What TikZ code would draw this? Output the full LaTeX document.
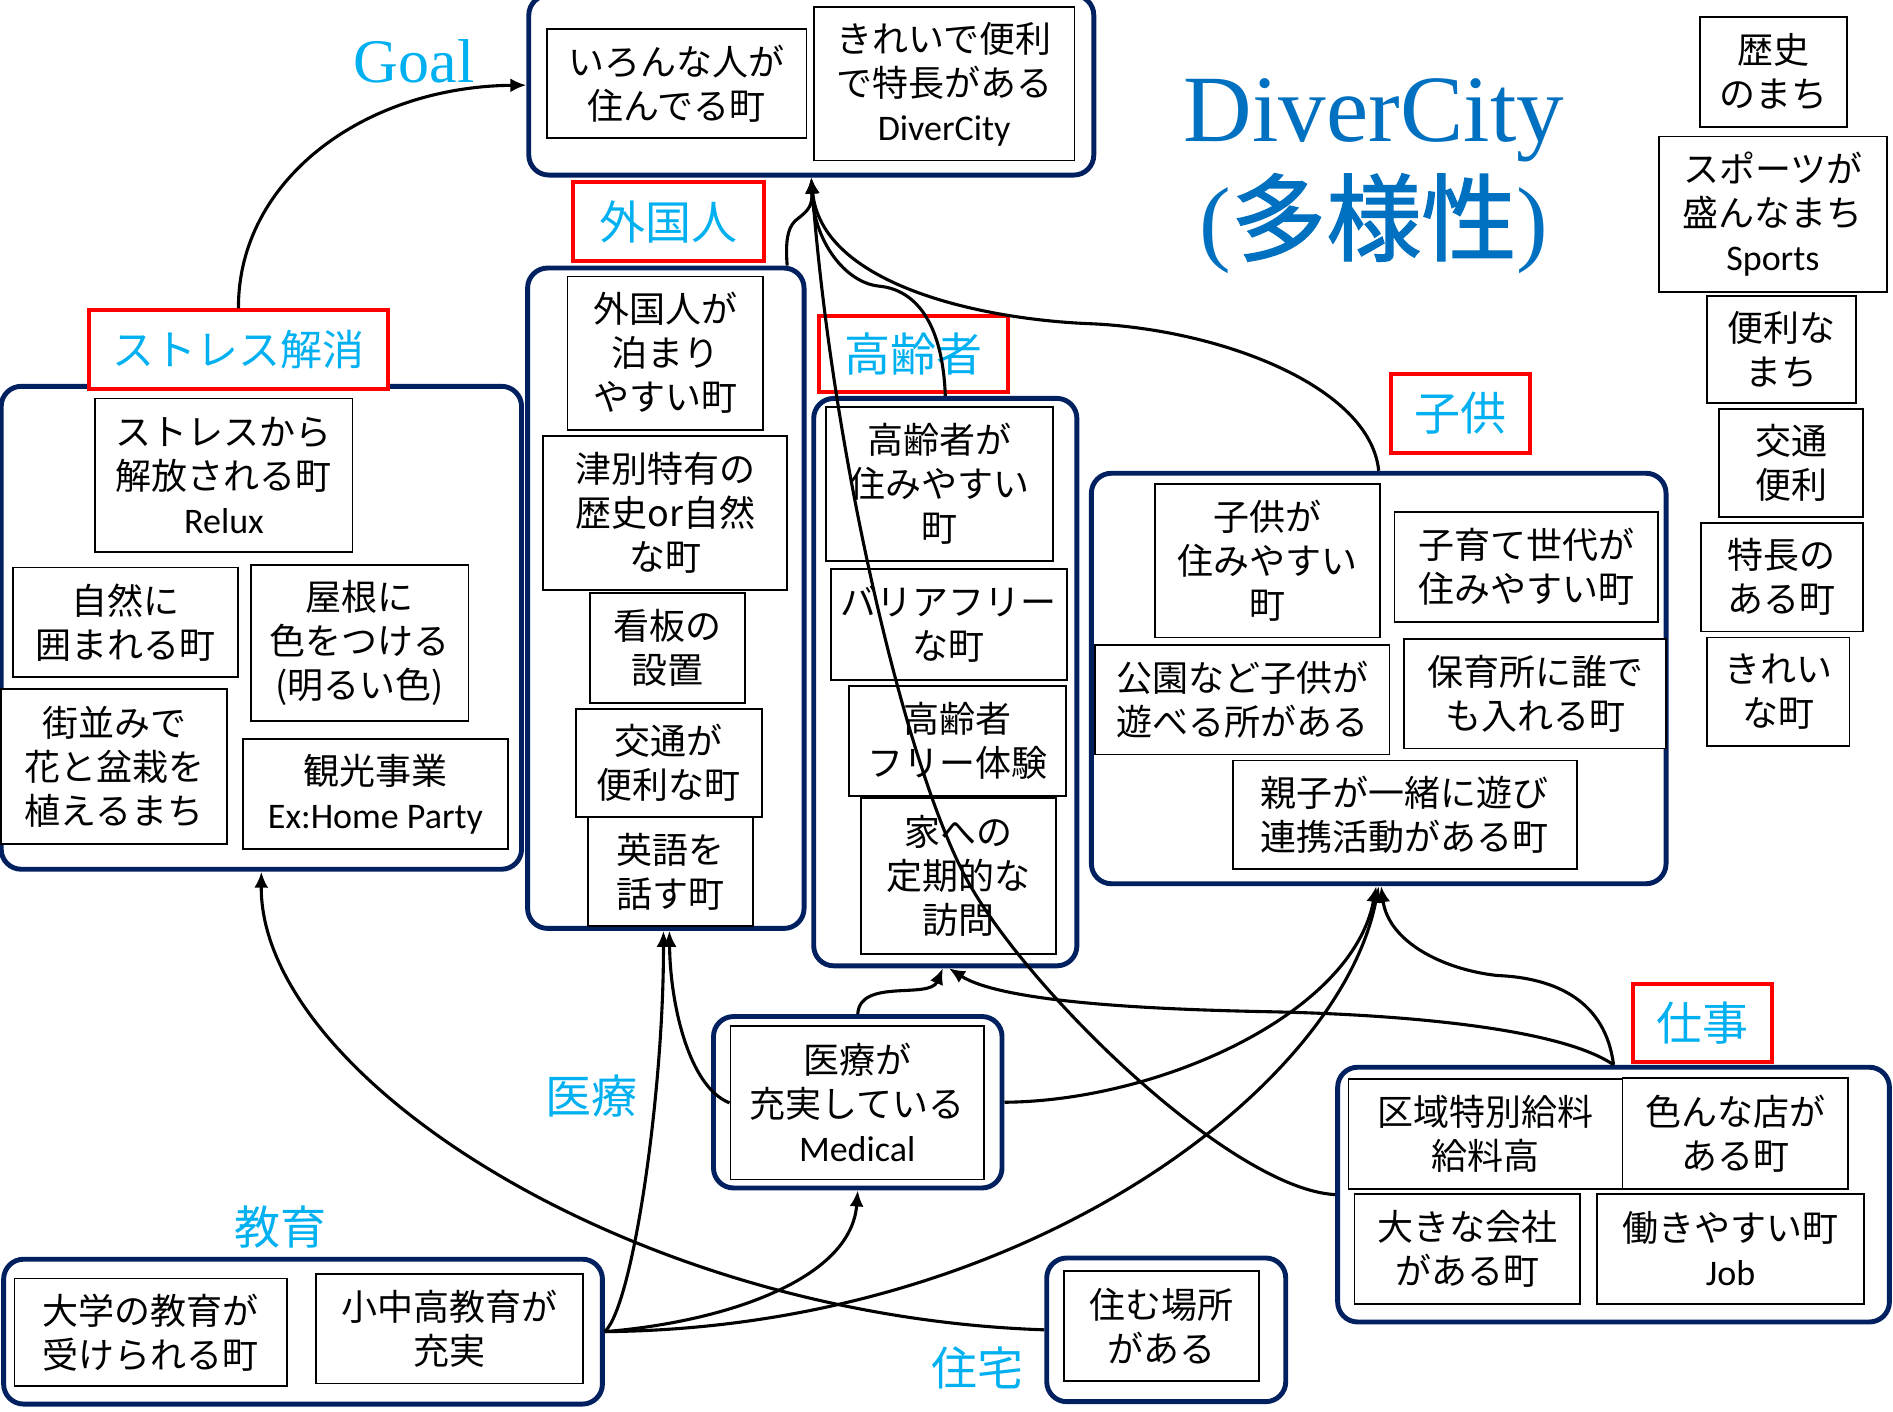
\documentclass[tikz,border=0pt]{standalone}
\usepackage{fontspec}
\setmainfont{Noto Sans CJK JP}
\newfontfamily\latf{Carlito}
\newfontfamily\serf{Liberation Serif}
\newfontfamily\jpbold[FakeBold=1.5]{Noto Sans CJK JP}
\usetikzlibrary{arrows.meta,fit,calc}
\definecolor{navy}{HTML}{002060}
\definecolor{cyanlab}{HTML}{00B0F0}
\definecolor{dcblue}{HTML}{0070C0}
\newcommand\lat[1]{{\latf #1}}
\tikzset{
  panel/.style={draw=navy, line width=4.9pt, rounded corners=20pt, fill=white, inner sep=0pt},
  tb/.style={draw=black, line width=1.8pt, fill=white, inner sep=0pt},
  tx/.style={align=center, font=\fontsize{36}{44}\selectfont, inner sep=0pt},
  redlab/.style={draw=red, line width=4pt, fill=white, inner sep=0pt},
  cy/.style={text=cyanlab, font=\fontsize{46}{50}\selectfont, inner sep=0pt},
  conn/.style={line width=3.1pt, -{Latex[length=16pt,width=14pt]}},
}
\newcommand\pnl[5]{\node[panel, fit={(#2,#3) (#4,#5)}] (#1) {};}
\newcommand\tbx[6]{\node[tb, fit={(#2,#3) (#4,#5)}] (#1) {};
  \node[tx] (#1t) at (#1.center) {#6};}
\newcommand\rlab[6]{\node[redlab, fit={(#2,#3) (#4,#5)}] (#1) {};
  \node[cy] (#1t) at (#1.center) {#6};}
\begin{document}
\begin{tikzpicture}[x=1.2073pt,y=-1.2073pt]
\useasboundingbox (0,0) rectangle (1568,1169);
\fill[white] (0,0) rectangle (1568,1169);
% panels
\pnl{goal}{438}{-4}{906}{145}
\pnl{stress}{1}{320}{432}{720}
\pnl{gaikoku}{437}{222}{666}{769}
\pnl{koreisha}{674}{330}{892}{800}
\pnl{kodomo}{904}{392}{1380}{732}
\pnl{shigoto}{1108}{884}{1565}{1095}
\pnl{iryo}{591}{842}{830}{984}
\pnl{kyoiku}{3}{1043}{499}{1163}
\pnl{jutaku}{867}{1042}{1065}{1161}
% goal boxes
\tbx{g1}{453}{24}{668}{114}{いろんな人が\\住んでる町}
\tbx{g2}{674}{6}{890}{133}{きれいで便利\\で特長がある\\\lat{DiverCity}}
% right column
\tbx{r1}{1408}{14}{1530}{105}{歴史\\のまち}
\tbx{r2}{1374}{113}{1563}{242}{スポーツが\\盛んなまち\\\lat{Sports}}
\tbx{r3}{1414}{245}{1537}{334}{便利な\\まち}
\tbx{r4}{1424}{339}{1543}{428}{交通\\便利}
\tbx{r5}{1409}{433}{1543}{523}{特長の\\ある町}
\tbx{r6}{1414}{528}{1532}{618}{きれい\\な町}
% foreigners
\tbx{f1}{470}{229}{632}{356}{外国人が\\泊まり\\やすい町}
\tbx{f2}{450}{361}{652}{489}{津別特有の\\歴史or自然\\な町}
\tbx{f3}{489}{491}{617}{582}{看板の\\設置}
\tbx{f4}{477}{587}{631}{677}{交通が\\便利な町}
\tbx{f5}{487}{677}{624}{767}{英語を\\話す町}
% stress
\tbx{s1}{79}{330}{292}{457}{ストレスから\\解放される町\\\lat{Relux}}
\tbx{s2}{11}{470}{197}{561}{自然に\\囲まれる町}
\tbx{s3}{208}{468}{388}{597}{屋根に\\色をつける\\(明るい色)}
\tbx{s4}{1}{571}{188}{699}{街並みで\\花と盆栽を\\植えるまち}
\tbx{s5}{201}{612}{421}{703}{観光事業\\\lat{Ex:Home Party}}
% elderly
\tbx{k1}{684}{337}{872}{465}{高齢者が\\住みやすい\\町}
\tbx{k2}{688}{471}{884}{563}{バリアフリー\\な町}
\tbx{k3}{703}{568}{883}{659}{高齢者\\フリー体験}
\tbx{k4}{713}{661}{875}{790}{家への\\定期的な\\訪問}
% children
\tbx{c1}{957}{401}{1143}{528}{子供が\\住みやすい\\町}
\tbx{c2}{1155}{424}{1373}{515}{子育て世代が\\住みやすい町}
\tbx{c3}{907}{534}{1151}{625}{公園など子供が\\遊べる所がある}
\tbx{c4}{1163}{529}{1380}{620}{保育所に誰で\\も入れる町}
\tbx{c5}{1021}{630}{1306}{720}{親子が一緒に遊び\\連携活動がある町}
% work
\tbx{w1}{1117}{894}{1344}{985}{区域特別給料\\給料高}
\tbx{w2}{1344}{893}{1531}{985}{色んな店が\\ある町}
\tbx{w3}{1122}{989}{1309}{1080}{大きな会社\\がある町}
\tbx{w4}{1323}{989}{1544}{1080}{働きやすい町\\\lat{Job}}
% medical, education, housing
\tbx{iryoin}{605}{850}{815}{977}{医療が\\充実している\\\lat{Medical}}
\tbx{e1}{12}{1059}{238}{1148}{大学の教育が\\受けられる町}
\tbx{e2}{262}{1055}{483}{1146}{小中高教育が\\充実}
\tbx{h1}{881}{1053}{1043}{1144}{住む場所\\がある}
% red labels
\rlab{lstress}{74}{257}{321}{322}{\fontsize{42}{46}\selectfont ストレス解消}
\rlab{lgaikoku}{475}{151}{633}{216}{外国人}
\rlab{lkorei}{678}{262}{835}{325}{高齢者}
\rlab{lkodomo}{1152}{310}{1267}{375}{子供}
\rlab{lshigoto}{1353}{815}{1468}{880}{仕事}
% free labels
\node[cy] (tiryo) at (490,908) {医療};
\node[cy] (tkyoiku) at (232,1016) {教育};
\node[cy] (tjutaku) at (810,1133) {住宅};
\node[text=cyanlab, font=\serf\fontsize{62}{62}\selectfont, anchor=base, inner sep=0pt] (tgoal) at (343,68) {Goal};
\node[text=dcblue, font=\serf\fontsize{95}{95}\selectfont, anchor=base, inner sep=0pt] (title1) at (1138,117) {DiverCity};
\node[text=dcblue, font=\fontsize{95}{95}\selectfont, anchor=base, inner sep=0pt] (title2) at (1138,210) {{\serf(}{\jpbold 多様性}{\serf)}};
% connectors
\coordinate (bend1) at (800,727);
\draw[conn] (lstress.north) .. controls (197,150) and (300,72) .. (goal.west);
\draw[conn] ($(gaikoku.north east)+(-16,0)$) .. controls (650,195) and (654,186) .. (661,181) .. controls (670,174) and (673,170) .. (goal.south);
\draw[conn] (shigoto.west) .. controls (1020,985) and (850,820) .. (bend1) .. controls (750,633) and (690,380) .. (goal.south);
\draw[conn] (koreisha.north) .. controls (781,270) and (760,240) .. (728,237) .. controls (700,234) and (674,200) .. (goal.south);
\draw[conn] (kodomo.north) .. controls (1135,320) and (1010,272) .. (900,268) .. controls (810,264) and (680,235) .. (goal.south);
\draw[conn] (kyoiku.east) .. controls (525,1080) and (550,900) .. ($(gaikoku.south)+(-2,0)$);
\draw[conn] (iryoin.west) .. controls (570,900) and (555,830) .. ($(gaikoku.south)+(3,0)$);
\draw[conn] (iryo.north) .. controls (712,810) and (770,828) .. ($(koreisha.south)+(-2,0)$);
\draw[conn] (shigoto.north) .. controls (1290,850) and (1150,840) .. (1050,838) .. controls (950,836) and (830,830) .. ($(koreisha.south)+(3,0)$);
\draw[conn] (shigoto.north) .. controls (1330,830) and (1290,810) .. (1240,808) .. controls (1195,803) and (1150,780) .. ($(kodomo.south)+(2,0)$);
\draw[conn] (iryo.east) .. controls (960,912) and (1120,840) .. ($(kodomo.south)+(-2,0)$);
\draw[conn] (kyoiku.east) .. controls (850,1100) and (1110,900) .. (kodomo.south);
\draw[conn] (kyoiku.east) .. controls (600,1095) and (705,1060) .. (iryo.south);
\draw[conn] (jutaku.west) .. controls (520,1090) and (215,890) .. (stress.south);
\end{tikzpicture}
\end{document}
